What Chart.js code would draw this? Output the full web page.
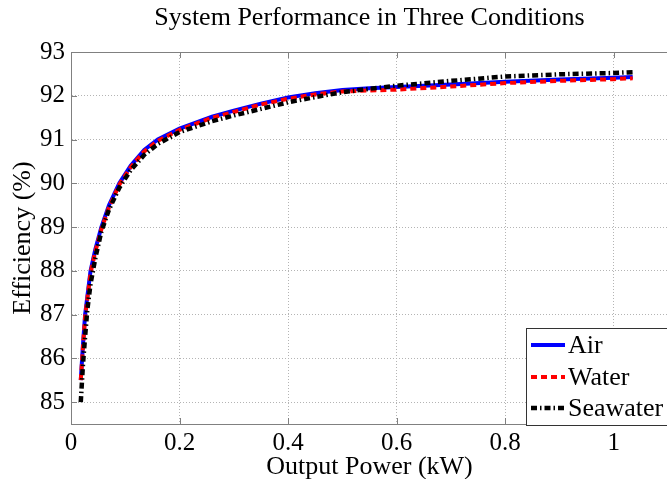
<!DOCTYPE html>
<html>
<head>
<meta charset="utf-8">
<script src="https://cdn.jsdelivr.net/npm/chart.js@4.4.1/dist/chart.umd.min.js"></script>
<style>
  html, body { margin: 0; padding: 0; background: #fff; overflow: hidden; }
  canvas { display: block; }
</style>
</head>
<body>
<canvas id="chart" width="670" height="479"></canvas>
<script>
// Output power (kW) and efficiency (%)
const power    = [0.018, 0.022, 0.026, 0.03, 0.036, 0.045, 0.056, 0.07, 0.089, 0.11, 0.135, 0.16, 0.2, 0.26, 0.3, 0.35, 0.4, 0.45, 0.5, 0.55, 0.6, 0.7, 0.8, 0.9, 1.0, 1.035];
const air      = [85.5, 86.3, 87.0, 87.4, 88.0, 88.5, 89.0, 89.5, 90.0, 90.4, 90.76, 91.0, 91.25, 91.52, 91.66, 91.82, 91.96, 92.06, 92.13, 92.17, 92.2, 92.26, 92.32, 92.37, 92.41, 92.43];
const water    = [85.5, 86.25, 86.95, 87.35, 87.95, 88.45, 88.95, 89.45, 89.97, 90.37, 90.73, 90.97, 91.22, 91.5, 91.63, 91.8, 91.93, 92.03, 92.1, 92.12, 92.14, 92.21, 92.29, 92.34, 92.38, 92.4];
const seawater = [85.0, 85.85, 86.5, 87.1, 87.7, 88.3, 88.9, 89.4, 89.9, 90.3, 90.65, 90.9, 91.17, 91.42, 91.55, 91.7, 91.85, 91.97, 92.08, 92.16, 92.23, 92.34, 92.44, 92.49, 92.52, 92.54];

const xTicks = [0, 0.2, 0.4, 0.6, 0.8, 1];
const yTicks = [85, 86, 87, 88, 89, 90, 91, 92, 93];

const FONT = "'Liberation Serif', 'Times New Roman', serif";
const FRAME = '#808080';
const GRID = '#b4b4b4';

const toPoints = (ys) => ys.map((y, i) => ({ x: power[i], y: y }));

// MATLAB-style frame: top border, inward ticks, boxed legend
const framePlugin = {
  id: 'frame',
  afterDraw(chart) {
    const { ctx, chartArea: a, scales } = chart;
    ctx.save();
    ctx.strokeStyle = FRAME;
    ctx.lineWidth = 1;
    ctx.beginPath();
    ctx.moveTo(a.left, a.top + 0.5);
    ctx.lineTo(a.right, a.top + 0.5);
    xTicks.forEach(v => {
      const px = Math.round(scales.x.getPixelForValue(v)) + 0.5;
      ctx.moveTo(px, a.bottom); ctx.lineTo(px, a.bottom - 6);
      ctx.moveTo(px, a.top); ctx.lineTo(px, a.top + 6);
    });
    yTicks.forEach(v => {
      const py = Math.round(scales.y.getPixelForValue(v)) + 0.5;
      ctx.moveTo(a.left, py); ctx.lineTo(a.left + 6, py);
    });
    ctx.stroke();

    // legend
    const lx = 526, ly = 328, lh = 97;
    ctx.fillStyle = '#fff';
    ctx.fillRect(lx, ly, 200, lh);
    ctx.strokeStyle = '#333';
    ctx.strokeRect(lx + 0.5, ly + 0.5, 200, lh);
    const rows = [345, 377, 408];
    chart.data.datasets.forEach((ds, i) => {
      const y = rows[i];
      ctx.strokeStyle = ds.borderColor;
      ctx.lineWidth = ds.borderWidth;
      ctx.setLineDash(ds.borderDash || []);
      ctx.beginPath();
      ctx.moveTo(531, y); ctx.lineTo(565, y);
      ctx.stroke();
      ctx.setLineDash([]);
      ctx.fillStyle = '#000';
      ctx.font = '26px ' + FONT;
      ctx.textBaseline = 'middle';
      ctx.textAlign = 'left';
      ctx.fillText(ds.label, 568, y + 1);
    });
    ctx.restore();
  }
};

new Chart(document.getElementById('chart'), {
  type: 'line',
  data: {
    datasets: [
      { label: 'Air', data: toPoints(air), borderColor: '#0000ff', borderWidth: 4, order: 3 },
      { label: 'Water', data: toPoints(water), borderColor: '#ff0000', borderWidth: 4, borderDash: [6, 4], order: 2 },
      { label: 'Seawater', data: toPoints(seawater), borderColor: '#000000', borderWidth: 4.5, borderDash: [6, 3, 1.5, 3], order: 1 }
    ]
  },
  options: {
    responsive: false,
    animation: false,
    devicePixelRatio: 1,
    layout: { padding: { left: 0, right: 2, top: 0, bottom: 0 } },
    elements: { point: { radius: 0 }, line: { tension: 0, fill: false } },
    plugins: {
      legend: { display: false },
      tooltip: { enabled: false },
      title: {
        display: true,
        fullSize: false,
        text: 'System Performance in Three Conditions',
        color: '#000',
        font: { family: FONT, size: 26, weight: 'normal', lineHeight: 1.2 },
        padding: { top: 2.4, bottom: 18.4 }
      }
    },
    scales: {
      x: {
        type: 'linear',
        min: 0,
        max: 1.1,
        afterBuildTicks: (s) => { s.ticks = xTicks.map(v => ({ value: v })); },
        afterFit: (s) => { s.height = 55; },
        grid: { color: GRID, lineWidth: 1, drawTicks: false },
        border: { color: FRAME, width: 1, dash: [1, 2] },
        ticks: {
          color: '#000', padding: 4, maxRotation: 0, autoSkip: false,
          font: { family: FONT, size: 25 },
          callback: (v) => String(+Number(v).toFixed(1))
        },
        title: {
          display: true, text: 'Output Power (kW)', color: '#000',
          font: { family: FONT, size: 26, lineHeight: 1 },
          padding: { top: 0, bottom: -1 }
        }
      },
      y: {
        min: 84.5,
        max: 93,
        afterBuildTicks: (s) => { s.ticks = yTicks.map(v => ({ value: v })); },
        afterFit: (s) => { s.width = 71; },
        grid: { color: GRID, lineWidth: 1, drawTicks: false },
        border: { color: FRAME, width: 1, dash: [1, 2] },
        ticks: {
          color: '#000', padding: 6,
          font: { family: FONT, size: 25 },
          callback: (v) => String(v)
        },
        title: {
          display: true, text: 'Efficiency (%)', color: '#000',
          font: { family: FONT, size: 26, lineHeight: 1.2 },
          padding: { top: 8, bottom: 0 }
        }
      }
    }
  },
  plugins: [framePlugin]
});
</script>
</body>
</html>
